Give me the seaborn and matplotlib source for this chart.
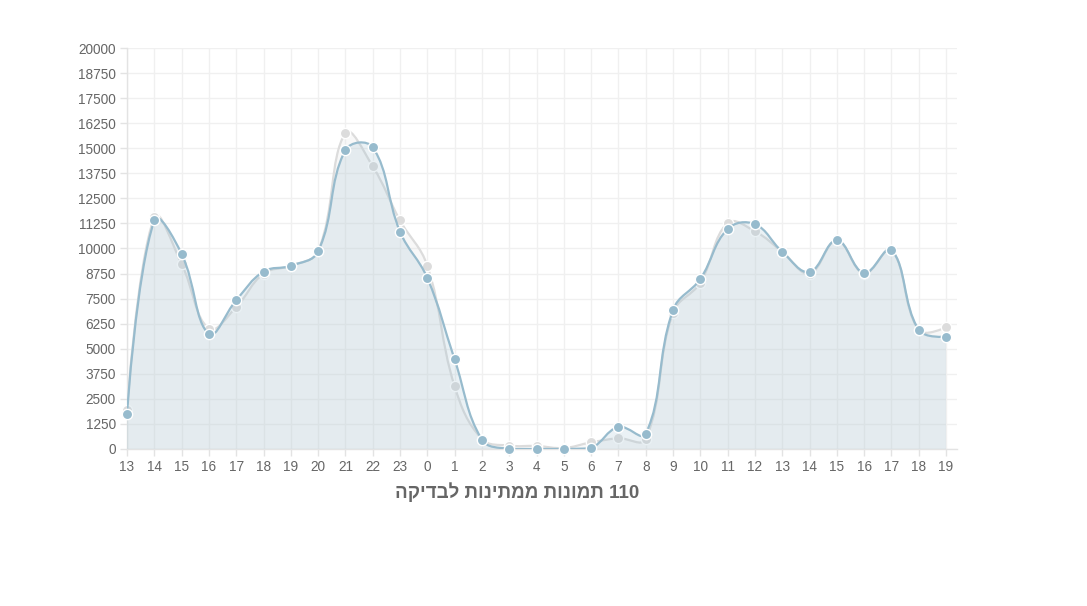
import numpy as np
import pandas as pd
import matplotlib
matplotlib.use("Agg")
import matplotlib.pyplot as plt
from matplotlib.path import Path
from matplotlib.patches import PathPatch
import seaborn as sns

# --- dados ---
horas = ['13', '14', '15', '16', '17', '18', '19', '20', '21', '22', '23',
         '0', '1', '2', '3', '4', '5', '6', '7', '8', '9', '10', '11', '12',
         '13', '14', '15', '16', '17', '18', '19']
serie_cinza = [1950, 11570, 9230, 6000, 7080, 8750, 9140, 9860, 15760, 14100, 11400,
               9140, 3130, 500, 170, 150, 50, 330, 530, 500, 6800, 8300, 11270, 10860,
               9840, 8750, 10400, 8750, 9920, 5930, 6070]
serie_azul = [1750, 11400, 9730, 5740, 7420, 8850, 9140, 9860, 14910, 15050, 10840,
              8530, 4470, 470, 0, 0, 0, 50, 1100, 750, 6930, 8480, 10970, 11210,
              9840, 8830, 10410, 8780, 9930, 5940, 5600]
titulo = '110 תמונות ממתינות לבדיקה'
y_ticks = np.arange(0, 20001, 1250)

COR_AZUL = (151/255, 187/255, 205/255)
COR_CINZA = (220/255, 220/255, 220/255)
COR_TEXTO = '#666666'
COR_GRADE = '#f0f0f0'
COR_EIXO = '#e3e3e3'

sns.set_theme(style="white")
plt.rcParams['font.family'] = ['Liberation Sans', 'DejaVu Sans']


def ordem_visual(texto):
    # matplotlib desenha da esquerda para a direita, sem bidi:
    # inverte a ordem das palavras e as letras hebraicas
    partes = texto.split(' ')[::-1]
    return ' '.join(p if p.isdigit() else p[::-1] for p in partes)


fig = plt.figure(figsize=(10.87, 6.06), dpi=100)
ax = fig.add_axes([127/1087, 1 - 449/606, (957 - 127)/1087, (449 - 48)/606])

Y_MAX = 20000
# escala em pixels (para a tensão da curva, igual ao Chart.js)
SX = 27.3
SY = 401 / Y_MAX


def curva_bezier(ys, tensao=0.4):
    xs = np.arange(len(ys), dtype=float)
    ys = np.asarray(ys, dtype=float)
    n = len(xs)
    c_in = np.zeros((n, 2))
    c_out = np.zeros((n, 2))
    for i in range(n):
        p = np.array([xs[i], ys[i]])
        if i == 0 or i == n - 1:
            c_in[i] = p
            c_out[i] = p
            continue
        a = np.array([xs[i-1], ys[i-1]])
        b = np.array([xs[i+1], ys[i+1]])
        d01 = np.hypot((p[0]-a[0])*SX, (p[1]-a[1])*SY)
        d12 = np.hypot((b[0]-p[0])*SX, (b[1]-p[1])*SY)
        fa = tensao * d01 / (d01 + d12)
        fb = tensao * d12 / (d01 + d12)
        c_in[i] = p - fa * (b - a)
        c_out[i] = p + fb * (b - a)
    c_in[:, 1] = np.clip(c_in[:, 1], 0, Y_MAX)
    c_out[:, 1] = np.clip(c_out[:, 1], 0, Y_MAX)
    verts = [(xs[0], ys[0])]
    codes = [Path.MOVETO]
    for i in range(1, n):
        verts += [tuple(c_out[i-1]), tuple(c_in[i]), (xs[i], ys[i])]
        codes += [Path.CURVE4] * 3
    return verts, codes


def desenhar_serie(ax, valores, cor, z):
    verts, codes = curva_bezier(valores)
    # area preenchida
    n = len(valores)
    v_fill = verts + [(n - 1, 0), (0, 0), verts[0]]
    c_fill = codes + [Path.LINETO, Path.LINETO, Path.CLOSEPOLY]
    ax.add_patch(PathPatch(Path(v_fill, c_fill), facecolor=(*cor, 0.2),
                           edgecolor='none', zorder=z))
    ax.add_patch(PathPatch(Path(verts, codes), facecolor='none', edgecolor=cor,
                           lw=1.6, zorder=z + 0.1, capstyle='round'))


df = pd.DataFrame({
    'pos': list(range(len(horas))) * 2,
    'valor': serie_cinza + serie_azul,
    'serie': ['cinza'] * len(horas) + ['azul'] * len(horas),
})

desenhar_serie(ax, serie_cinza, COR_CINZA, 2)
sns.scatterplot(data=df[df['serie'] == 'cinza'], x='pos', y='valor', ax=ax,
                color=COR_CINZA, s=55, edgecolor='white', linewidth=1.0,
                zorder=3, legend=False, clip_on=False)
desenhar_serie(ax, serie_azul, COR_AZUL, 4)
sns.scatterplot(data=df[df['serie'] == 'azul'], x='pos', y='valor', ax=ax,
                color=COR_AZUL, s=55, edgecolor='white', linewidth=1.0,
                zorder=5, legend=False, clip_on=False)

ax.set_xlim(0, 30 + 11/27.3)
ax.set_ylim(0, Y_MAX)
ax.set_xticks(range(len(horas)))
ax.set_xticklabels(horas)
ax.set_yticks(y_ticks)
ax.set_yticklabels([str(v) for v in y_ticks])
ax.set_xlabel('')
ax.set_ylabel('')

ax.grid(True, color=COR_GRADE, lw=1, alpha=1)
ax.set_axisbelow(True)
for lado in ['top', 'right']:
    ax.spines[lado].set_visible(False)
for lado in ['left', 'bottom']:
    ax.spines[lado].set_color(COR_EIXO)
    ax.spines[lado].set_linewidth(1)
ax.tick_params(axis='both', colors=COR_EIXO, labelcolor=COR_TEXTO,
               labelsize=9.8, length=5, width=1, pad=3, direction='out',
               left=True, bottom=True)

fig.text(517/1087, 1 - 492/606, ordem_visual(titulo), ha='center', va='center',
         fontsize=13.5, fontweight='bold', color=COR_TEXTO)

fig.savefig('out.png', dpi=100, facecolor='white')
